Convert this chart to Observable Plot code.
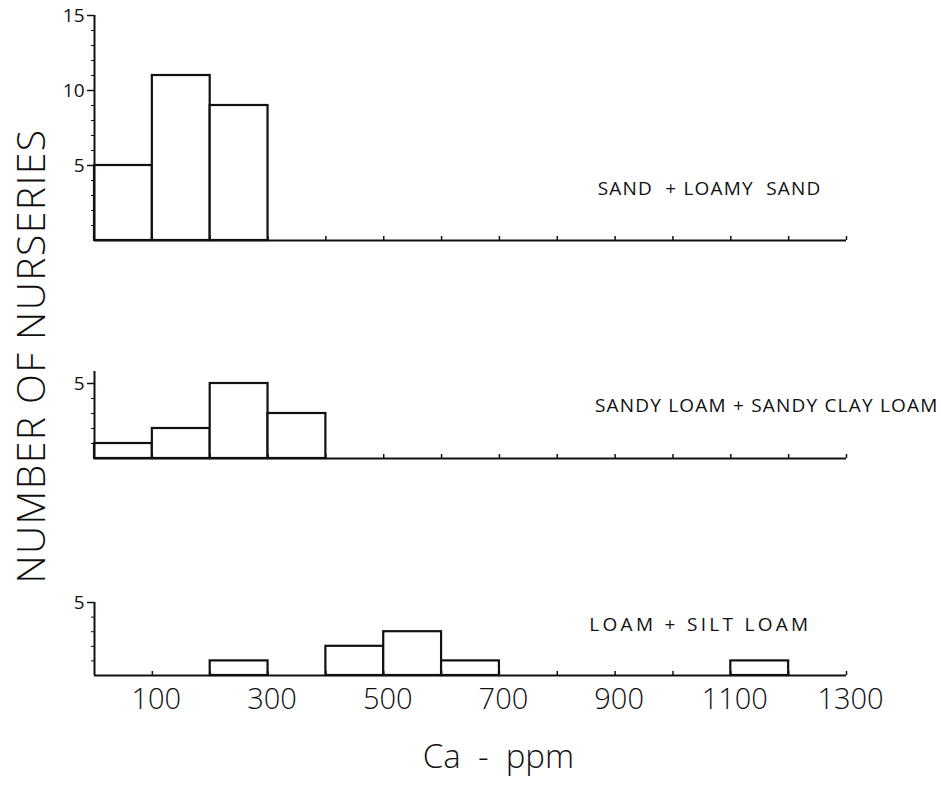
<!DOCTYPE html>
<html>
<head>
<meta charset="utf-8">
<script src="https://cdn.jsdelivr.net/npm/d3@7"></script>
<script src="https://cdn.jsdelivr.net/npm/@observablehq/plot@0.6"></script>
<style>
  body { margin: 0; background: #fff; }
  #chart { position: relative; width: 941px; height: 788px; font-family: "Open Sans", sans-serif; color: #111; }
  #chart svg { position: absolute; left: 0; overflow: visible; }
  #ytitle {
    position: absolute; left: 29px; top: 356px;
    transform: translate(-50%, -50%) rotate(-90deg);
    white-space: nowrap; font-size: 39px; font-weight: 300; letter-spacing: 1.5px; line-height: 1;
  }
</style>
</head>
<body>
<div id="chart"><div id="ytitle">NUMBER OF NURSERIES</div></div>
<script>
// Ca (ppm) class boundaries, 100 ppm wide
const binEdges = [0, 100, 200, 300, 400, 500, 600, 700, 800, 900, 1000, 1100, 1200, 1300];

// Number of nurseries in each Ca class, by soil texture group
const sandCounts      = [5, 11, 9, 0, 0, 0, 0, 0, 0, 0, 0, 0, 0];
const sandyLoamCounts = [1, 2, 5, 3, 0, 0, 0, 0, 0, 0, 0, 0, 0];
const loamCounts      = [0, 0, 1, 0, 2, 3, 1, 0, 0, 0, 0, 1, 0];

const groupNames = ["SAND\u00a0\u00a0+ LOAMY\u00a0\u00a0SAND", "SANDY LOAM + SANDY CLAY LOAM", "LOAM + SILT LOAM"];

const xTickValues  = [100, 200, 300, 400, 500, 600, 700, 800, 900, 1000, 1100, 1200, 1300];
const xLabelValues = [100, 300, 500, 700, 900, 1100, 1300];
const xTitle = "Ca\u00a0\u00a0-\u00a0\u00a0ppm";

const chart = document.getElementById("chart");
const plain = d => String(d);

function histogram({counts, name, yMax, yLabels, yMinor, top, height, marginTop, marginBottom, nameDx, nameDy, nameSpacing, bottomAxis}) {
  const bins = counts
    .map((count, i) => ({x1: binEdges[i], x2: binEdges[i + 1], count}))
    .filter(d => d.count > 0);

  const marks = [
    Plot.rectY(bins, {x1: "x1", x2: "x2", y: "count", fill: "white", stroke: "#111", strokeWidth: 2.2}),
    Plot.ruleY([0], {stroke: "#111", strokeWidth: 2}),
    Plot.ruleX([0], {y1: 0, y2: yMax, stroke: "#111", strokeWidth: 2}),
    Plot.axisY({ticks: yLabels, tickSize: 7, tickPadding: 3, tickFormat: plain, fontSize: 19, strokeWidth: 1.5, label: null}),
    Plot.axisY({ticks: yMinor, tickSize: 3, tickFormat: () => "", strokeWidth: 1, label: null}),
    Plot.axisX({ticks: xTickValues, tickSize: -4, tickFormat: () => "", strokeWidth: 1.5, label: null}),
    Plot.text([name], {frameAnchor: "bottom-right", textAnchor: "end", lineAnchor: "middle", dx: nameDx, dy: nameDy, fontSize: 19, fill: "#111"})
  ];
  if (bottomAxis) {
    marks.push(
      Plot.axisX({ticks: xLabelValues, tickSize: 0, tickPadding: 13, dx: 4, tickFormat: plain, fontSize: 29, fontWeight: 300, label: null}),
      Plot.text([xTitle], {frameAnchor: "bottom", lineAnchor: "middle", dx: 28, dy: 82, fontSize: 33, fontWeight: 300, fill: "#111"})
    );
  }
  const svg = Plot.plot({
    width: 941,
    height,
    marginLeft: 94,
    marginRight: 95,
    marginTop,
    marginBottom,
    style: {fontFamily: "'Open Sans', sans-serif", color: "#111", background: "transparent"},
    x: {domain: [0, 1300]},
    y: {domain: [0, yMax]},
    marks
  });
  // widen the hand-lettered group name a little
  const nameGroup = svg.querySelectorAll('g[aria-label="text"]')[0];
  if (nameGroup) nameGroup.style.letterSpacing = nameSpacing + "px";
  svg.style.top = top + "px";
  chart.appendChild(svg);
}

histogram({counts: sandCounts, name: groupNames[0], yMax: 15, yLabels: [5, 10, 15],
  yMinor: [1, 2, 3, 4, 6, 7, 8, 9, 11, 12, 13, 14],
  top: 0, height: 250, marginTop: 15, marginBottom: 10, nameDx: -25, nameDy: -52, nameSpacing: 1.2});

histogram({counts: sandyLoamCounts, name: groupNames[1], yMax: 5.8, yLabels: [5],
  yMinor: [1, 2, 3, 4],
  top: 360, height: 110, marginTop: 11, marginBottom: 12, nameDx: 92, nameDy: -53, nameSpacing: 1.2});

histogram({counts: loamCounts, name: groupNames[2], yMax: 5, yLabels: [5],
  yMinor: [1, 2, 3, 4],
  top: 590, height: 198, marginTop: 12, marginBottom: 113, nameDx: -35, nameDy: -51, nameSpacing: 3.3, bottomAxis: true});
</script>
</body>
</html>
